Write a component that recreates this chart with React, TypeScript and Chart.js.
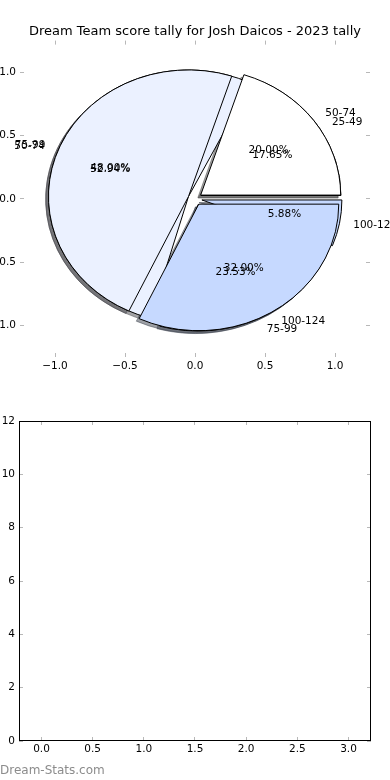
import React, { useEffect, useRef } from "react";
import { Chart, registerables } from "chart.js";

Chart.register(...registerables);

const TITLE = "Dream Team score tally for Josh Daicos - 2023 tally";
const WATERMARK = "Dream-Stats.com";

// Pie drawn first (underneath)
const lowerPieLabels = ["25-49", "50-74", "75-99", "100-124"];
const lowerPieValues = [3, 9, 4, 1];
// Pie drawn on top
const upperPieLabels = ["50-74", "75-99", "100-124"];
const upperPieValues = [5, 12, 8];

const wedgeColors = ["#ffffff", "#ebf1ff", "#c6d9ff", "#c6d9ff"];

const pieTicks = [-1.0, -0.5, 0.0, 0.5, 1.0];
const emptyXTicks = [0, 0.5, 1.0, 1.5, 2.0, 2.5, 3.0];
const emptyYTicks = [0, 2, 4, 6, 8, 10, 12];

const FONT = "'DejaVu Sans', sans-serif";
const FS = 10.5;
const EXPLODE = 0.05;
const RADIUS = 1;
const LABEL_DIST = 1.1;
const PCT_DIST = 0.6;
const SHADOW = 0.02;

function fmtTick(v: number, digits: number) {
  const s = Math.abs(v).toFixed(digits);
  return v < 0 ? "\u2212" + s : s;
}

function shadowColor(hex: string) {
  const n = parseInt(hex.slice(1), 16);
  const r = (n >> 16) & 255, g = (n >> 8) & 255, b = n & 255;
  return `rgba(${Math.round(r * 0.3)},${Math.round(g * 0.3)},${Math.round(b * 0.3)},0.5)`;
}

function buildWedges(values: number[]) {
  const total = values.reduce((a, b) => a + b, 0);
  let start = 0;
  return values.map((v, i) => {
    const frac = v / total;
    const a1 = start * 2 * Math.PI;
    const a2 = (start + frac) * 2 * Math.PI;
    start += frac;
    const mid = (a1 + a2) / 2;
    return { i, frac, a1, a2, mid, cx: EXPLODE * Math.cos(mid), cy: EXPLODE * Math.sin(mid) };
  });
}

const innerTicksPlugin = {
  id: "innerTicks",
  afterDraw(chart: any, _args: any, opts: any) {
    const { ctx, chartArea: a } = chart;
    const xs = chart.scales.x, ys = chart.scales.y;
    const L = 4;
    ctx.save();
    ctx.strokeStyle = "#b8b8b8";
    ctx.lineWidth = 1;
    ctx.beginPath();
    xs.ticks.forEach((t: any) => {
      const px = Math.floor(xs.getPixelForValue(t.value)) + 0.5;
      ctx.moveTo(px, a.top); ctx.lineTo(px, a.top + L);
      ctx.moveTo(px, a.bottom); ctx.lineTo(px, a.bottom - L);
    });
    ys.ticks.forEach((t: any) => {
      const py = Math.floor(ys.getPixelForValue(t.value)) + 0.5;
      ctx.moveTo(a.left, py); ctx.lineTo(a.left + L, py);
      ctx.moveTo(a.right, py); ctx.lineTo(a.right - L, py);
    });
    ctx.stroke();
    if (opts && opts.frame) {
      ctx.strokeStyle = "#000";
      ctx.strokeRect(a.left + 0.5, a.top + 0.5, a.right - a.left - 1, a.bottom - a.top - 1);
    }
    ctx.restore();
  },
};

const piePlugin = {
  id: "pies",
  afterDatasetsDraw(chart: any) {
    const { ctx } = chart;
    const xs = chart.scales.x, ys = chart.scales.y;
    const pies = [
      { labels: lowerPieLabels, values: lowerPieValues },
      { labels: upperPieLabels, values: upperPieValues },
    ].map((p) => ({ ...p, wedges: buildWedges(p.values) }));
    const rx = Math.abs(xs.getPixelForValue(RADIUS) - xs.getPixelForValue(0));
    const ry = Math.abs(ys.getPixelForValue(0) - ys.getPixelForValue(RADIUS));
    const path = (w: any, dx: number, dy: number) => {
      const cx = xs.getPixelForValue(w.cx + dx);
      const cy = ys.getPixelForValue(w.cy + dy);
      ctx.beginPath();
      ctx.moveTo(cx, cy);
      ctx.ellipse(cx, cy, rx, ry, 0, -w.a1, -w.a2, true);
      ctx.closePath();
    };
    ctx.save();
    ctx.lineWidth = 1;
    ctx.lineJoin = "miter";
    pies.forEach((p) =>
      p.wedges.forEach((w) => {
        const sc = shadowColor(wedgeColors[w.i]);
        path(w, -SHADOW, -SHADOW);
        ctx.fillStyle = sc;
        ctx.fill();
        ctx.strokeStyle = sc;
        ctx.stroke();
      })
    );
    pies.forEach((p) =>
      p.wedges.forEach((w) => {
        path(w, 0, 0);
        ctx.fillStyle = wedgeColors[w.i];
        ctx.fill();
        ctx.strokeStyle = "#000";
        ctx.stroke();
      })
    );
    ctx.font = `${FS}px ${FONT}`;
    ctx.fillStyle = "#000";
    ctx.textBaseline = "middle";
    pies.forEach((p) =>
      p.wedges.forEach((w) => {
        const lx = w.cx + LABEL_DIST * RADIUS * Math.cos(w.mid);
        const ly = w.cy + LABEL_DIST * RADIUS * Math.sin(w.mid);
        ctx.textAlign = lx > 0 ? "left" : "right";
        ctx.fillText(p.labels[w.i], xs.getPixelForValue(lx), ys.getPixelForValue(ly));
        const tx = w.cx + PCT_DIST * RADIUS * Math.cos(w.mid);
        const ty = w.cy + PCT_DIST * RADIUS * Math.sin(w.mid);
        ctx.textAlign = "center";
        ctx.fillText((w.frac * 100).toFixed(2) + "%", xs.getPixelForValue(tx), ys.getPixelForValue(ty));
      })
    );
    ctx.restore();
  },
};

const tickFont = { family: FONT, size: FS };

export default function App() {
  const topRef = useRef<HTMLCanvasElement>(null);
  const botRef = useRef<HTMLCanvasElement>(null);

  useEffect(() => {
    const top = new Chart(topRef.current as HTMLCanvasElement, {
      type: "scatter",
      data: { datasets: [] },
      plugins: [piePlugin, innerTicksPlugin],
      options: {
        animation: false,
        responsive: false,
        maintainAspectRatio: false,
        layout: { padding: { left: 0, right: 0, top: 0, bottom: 0 } },
        plugins: {
          legend: { display: false },
          tooltip: { enabled: false },
          title: {
            display: true,
            text: TITLE,
            color: "#000",
            font: { family: FONT, size: 13, weight: "normal" },
            padding: { top: 24, bottom: 1 },
          },
          innerTicks: { frame: false },
        } as any,
        scales: {
          x: {
            type: "linear",
            min: -1.25,
            max: 1.25,
            afterBuildTicks: (s: any) => { s.ticks = pieTicks.map((v) => ({ value: v })); },
            afterFit: (s: any) => { s.height = 33; },
            grid: { display: false, drawTicks: false },
            border: { display: false },
            ticks: { font: tickFont, color: "#000", padding: 3, maxRotation: 0, autoSkip: false, callback: (v: any) => fmtTick(Number(v), 1) },
          },
          y: {
            type: "linear",
            min: -1.25,
            max: 1.25,
            afterBuildTicks: (s: any) => { s.ticks = pieTicks.map((v) => ({ value: v })); },
            afterFit: (s: any) => { s.width = 20; },
            grid: { display: false, drawTicks: false },
            border: { display: false },
            ticks: { font: tickFont, color: "#000", padding: 4, autoSkip: false, callback: (v: any) => fmtTick(Number(v), 1) },
          },
          yRight: {
            type: "linear",
            position: "right",
            min: -1.25,
            max: 1.25,
            afterFit: (s: any) => { s.width = 20; },
            grid: { display: false, drawTicks: false },
            border: { display: false },
            ticks: { display: false },
          },
        },
      } as any,
    });

    const bot = new Chart(botRef.current as HTMLCanvasElement, {
      type: "scatter",
      data: { datasets: [] },
      plugins: [innerTicksPlugin],
      options: {
        animation: false,
        responsive: false,
        maintainAspectRatio: false,
        layout: { padding: { left: 0, right: 19, top: 31, bottom: 0 } },
        plugins: {
          legend: { display: false },
          tooltip: { enabled: false },
          innerTicks: { frame: true },
        } as any,
        scales: {
          x: {
            type: "linear",
            min: -0.22,
            max: 3.22,
            afterBuildTicks: (s: any) => { s.ticks = emptyXTicks.map((v) => ({ value: v })); },
            afterFit: (s: any) => { s.height = 39; },
            grid: { display: false, drawTicks: false },
            border: { display: false },
            ticks: { font: tickFont, color: "#000", padding: 2, maxRotation: 0, autoSkip: false, callback: (v: any) => fmtTick(Number(v), 1) },
          },
          y: {
            type: "linear",
            min: 0,
            max: 12,
            afterBuildTicks: (s: any) => { s.ticks = emptyYTicks.map((v) => ({ value: v })); },
            afterFit: (s: any) => { s.width = 19; },
            grid: { display: false, drawTicks: false },
            border: { display: false },
            ticks: { font: tickFont, color: "#000", padding: 4, autoSkip: false, callback: (v: any) => String(v) },
          },
        },
      } as any,
    });

    return () => {
      top.destroy();
      bot.destroy();
    };
  }, []);

  return (
    <div style={{ position: "absolute", left: 0, top: 0, width: 390, height: 780, background: "#fff", overflow: "hidden" }}>
      <canvas ref={topRef} width={390} height={390} style={{ position: "absolute", left: 0, top: 0, display: "block" }} />
      <canvas ref={botRef} width={390} height={390} style={{ position: "absolute", left: 0, top: 390, display: "block" }} />
      <div
        style={{
          position: "absolute",
          left: 0,
          top: 762,
          fontFamily: FONT,
          fontSize: 12,
          lineHeight: "16px",
          color: "#8c8c8c",
          whiteSpace: "nowrap",
        }}
      >
        {WATERMARK}
      </div>
    </div>
  );
}
